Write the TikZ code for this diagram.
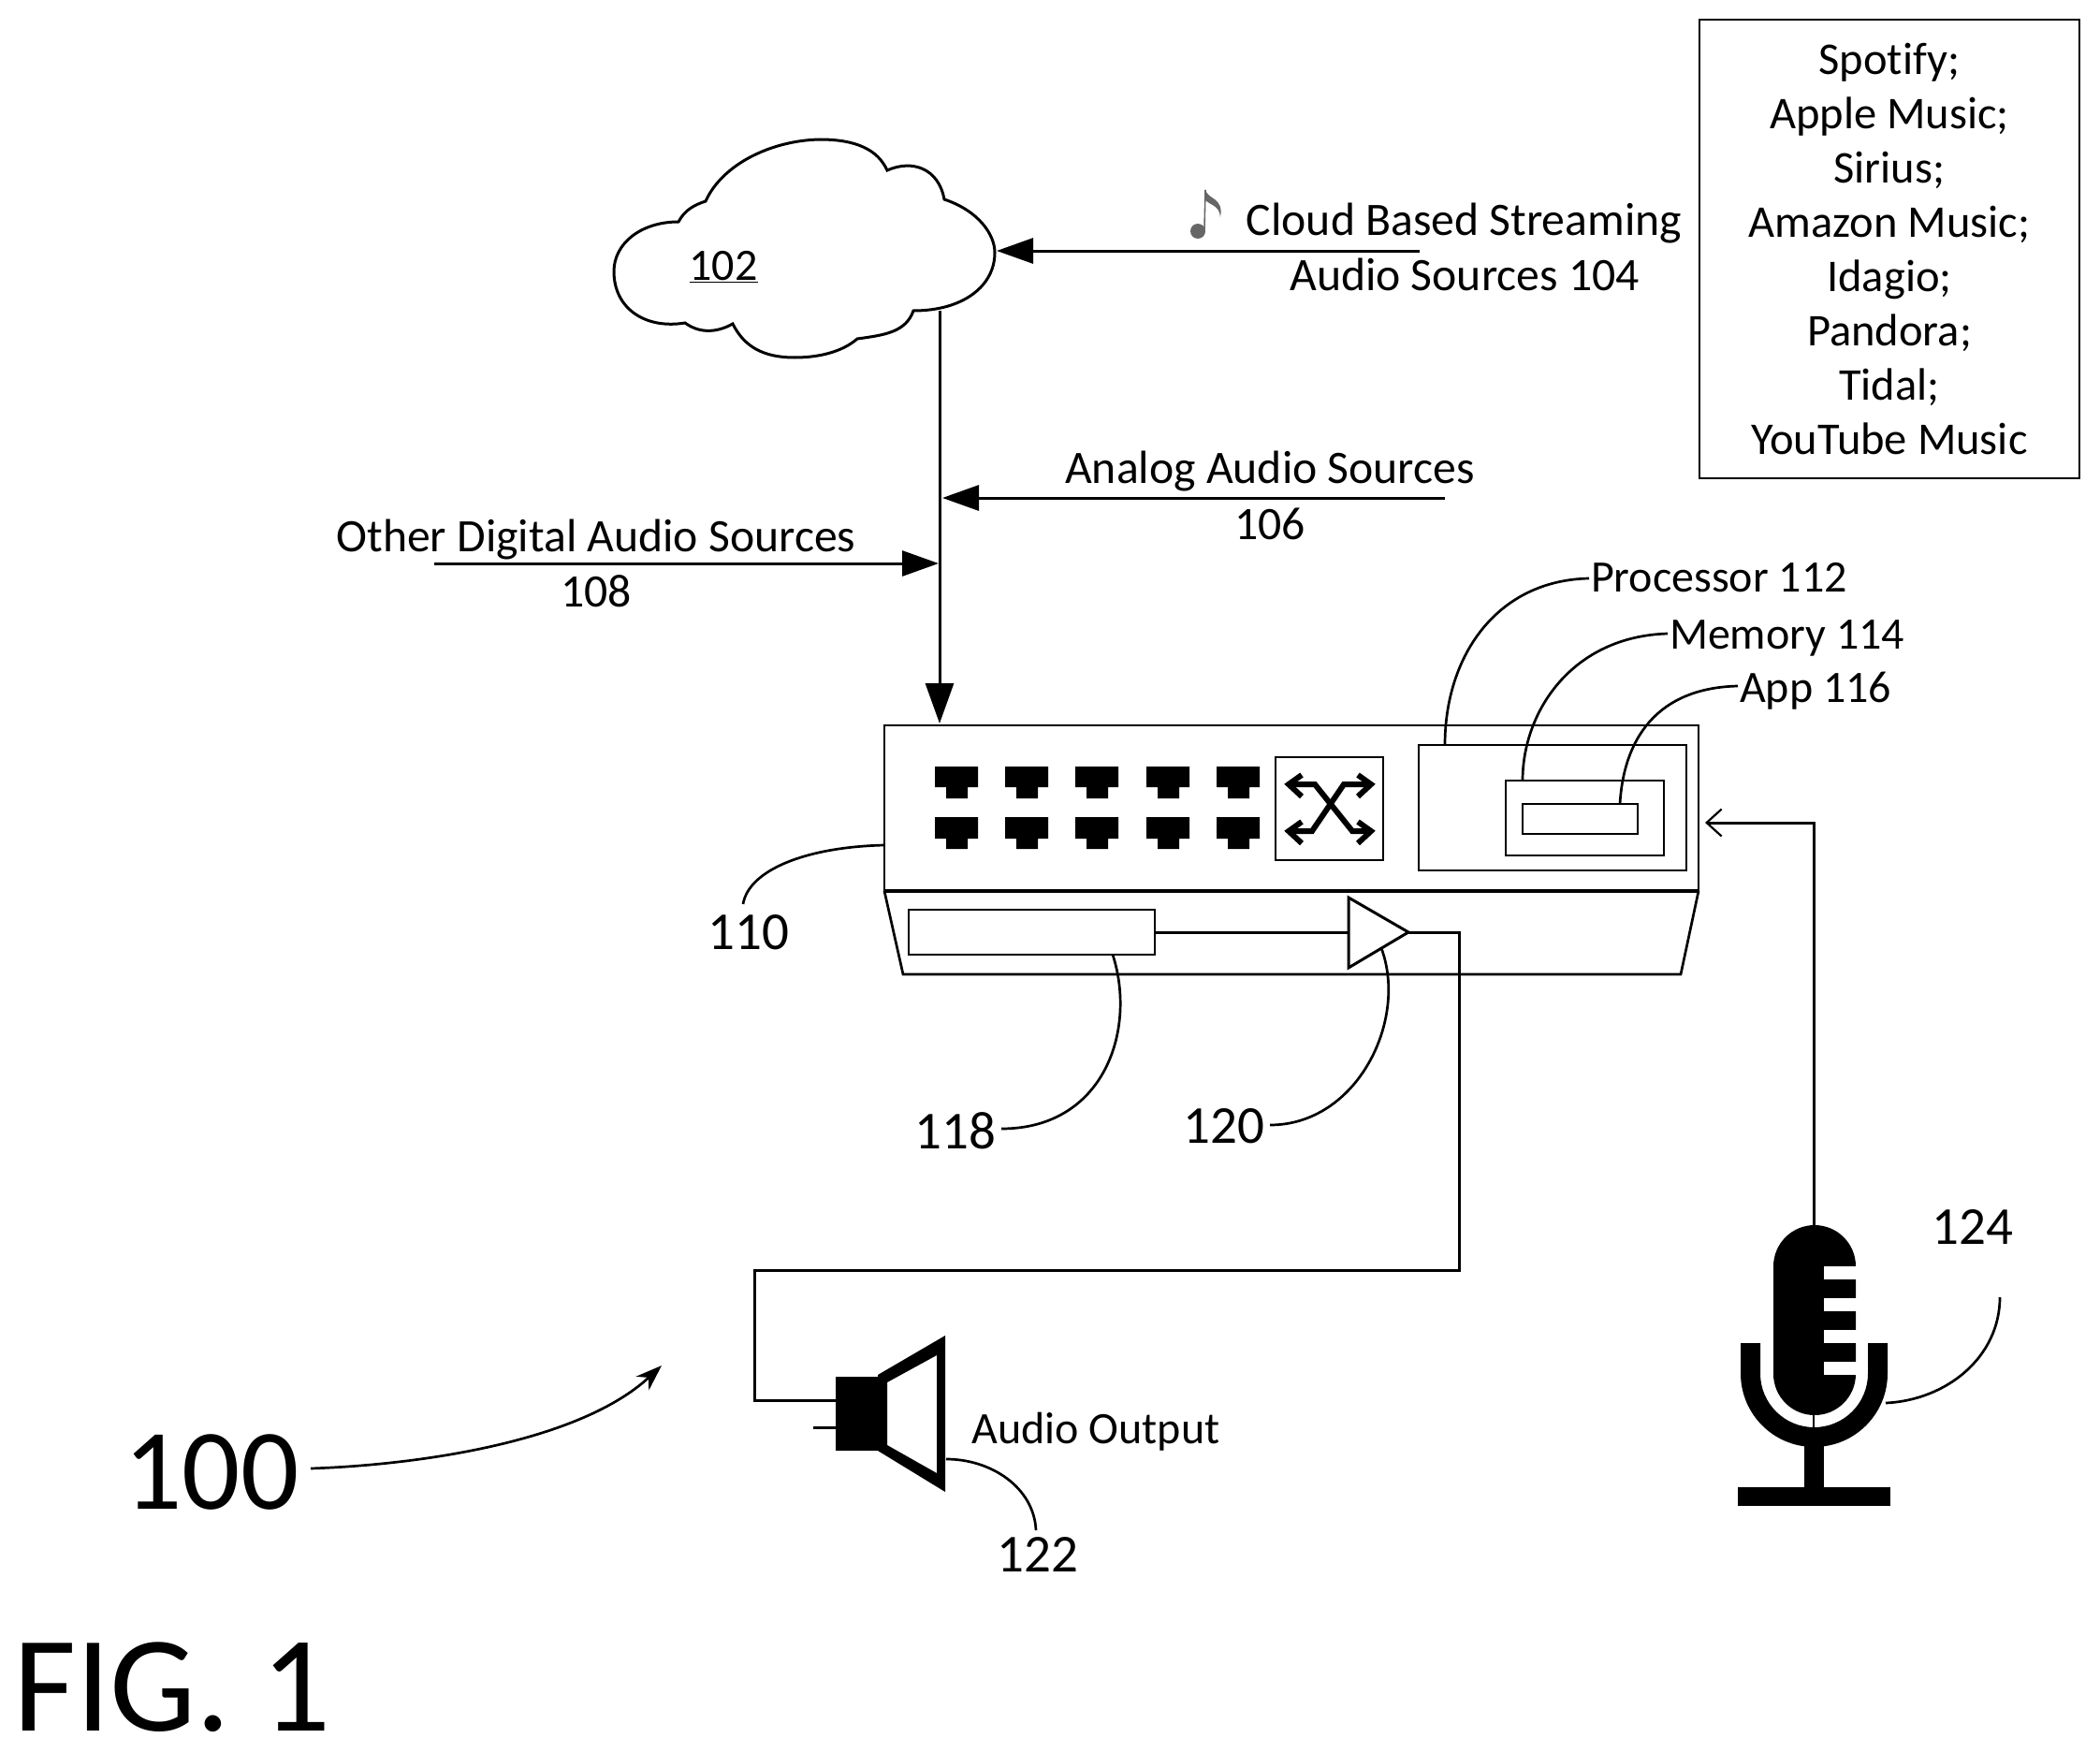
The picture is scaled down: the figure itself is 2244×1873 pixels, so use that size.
\documentclass[tikz,border=0pt]{standalone}
\usepackage{fontspec}
\setmainfont{Carlito}[Ligatures=NoCommon]
\usetikzlibrary{arrows.meta}
\newcommand{\fsN}{\fontsize{48}{58}\selectfont}
\newcommand{\fsM}{\fontsize{49.7}{58}\selectfont}
\newcommand{\fsL}{\fontsize{57}{68}\selectfont}
\newcommand{\boxat}[6][]{\node[boxn,#1,minimum width={(#5-#3)*1pt},minimum height={(#6-#4)*1pt}] (#2) at ({(#3+#5)/2},{(#4+#6)/2}) {};}
\tikzset{
  boxn/.style={draw=black,line width=2.9pt,inner sep=0pt,outer sep=0pt,rectangle},
  wire/.style={draw=black,line width=3pt},
  lead/.style={draw=black,line width=2.7pt},
  lbl/.style={inner sep=0pt,outer sep=0pt,anchor=base,font=\fsN,text=black},
  lblm/.style={inner sep=0pt,outer sep=0pt,anchor=base,font=\fsM,text=black},
  numl/.style={inner sep=0pt,outer sep=0pt,anchor=base,font=\fsL,text=black},
  bighead/.style={-{Triangle[length=39pt,width=27pt]}},
  downhead/.style={-{Triangle[length=43pt,width=30pt]}},
  openhead/.style={-{Straight Barb[length=16pt,width=29pt,line width=2.2pt]}},
  swline/.style={draw=black,line width=6pt},
}
\begin{document}
\begin{tikzpicture}[x=1pt,y=-1pt]
\useasboundingbox (0,0) rectangle (2244,1873);
% cloud
\draw[wire] (725,237) .. controls (732,224) and (742,219) .. (754,215)
  .. controls (772,175) and (825,150) .. (876,149)
  .. controls (915,149) and (938,160) .. (948,182)
  .. controls (975,170) and (1003,180) .. (1009,213)
  .. controls (1045,225) and (1063,250) .. (1063,270)
  .. controls (1063,305) and (1030,332) .. (976,332)
  .. controls (968,355) and (945,358) .. (916,362)
  .. controls (900,376) and (875,382) .. (849,382)
  .. controls (815,382) and (795,370) .. (783,346)
  .. controls (765,356) and (747,356) .. (732,345)
  .. controls (690,352) and (656,330) .. (656,290)
  .. controls (656,260) and (685,237) .. (725,237) -- cycle;
\coordinate (cloudE) at (1065,268);
\coordinate (cloudS) at (1004,332);
\node[lbl] (n102) at (773,299) {\underline{102}};
% source box
\node[boxn,minimum width=406pt,minimum height=490pt,align=center,font=\fontsize{48.5}{58}\selectfont,line width=2.8pt] (svc) at (2019,266)
 {Spotify;\\Apple Music;\\Sirius;\\Amazon Music;\\Idagio;\\Pandora;\\Tidal;\\YouTube Music};
% streaming label
\node[lblm] (t104a) at (1564.5,251) {Cloud Based Streaming};
\node[lblm] (t104b) at (1565,310) {Audio Sources 104};
\coordinate (s104) at (1517,268);
\draw[wire,bighead] (s104) -- (cloudE);
% note
\fill[black!60] (1280,247) ellipse [x radius=8,y radius=8];
\draw[black!60,line width=1.6pt] (1287,245) -- (1288,203);
\fill[black!60] (1288,202) .. controls (1290,214) and (1308,210) .. (1304,232) .. controls (1303,220) and (1295,220) .. (1288,214) -- cycle;
% device
\boxat{dev}{945}{775}{1815}{952}
\draw[lead] (dev.south west) -- (965,1041) -- (1796,1041) -- (dev.south east);
\draw[black,line width=4.5pt] (dev.south west) -- (dev.south east);
\boxat{proc}{1516}{796}{1802}{930}
\boxat{mem}{1609}{834}{1778}{914}
\boxat{app}{1627}{859}{1750}{891}
\boxat{sw}{1363}{809}{1478}{919}
\foreach \px in {999,1074,1149,1225,1300}{
  \fill[black] (\px,819) -- ++(46,0) -- ++(0,22) -- ++(-11,0) -- ++(0,12) -- ++(-23,0) -- ++(0,-12) -- ++(-12,0) -- cycle;
  \fill[black] (\px,873) -- ++(46,0) -- ++(0,23) -- ++(-11,0) -- ++(0,11) -- ++(-23,0) -- ++(0,-11) -- ++(-12,0) -- cycle;
}
\draw[swline] (1391,828) -- (1377,838) -- (1391,851);
\draw[swline] (1451,828) -- (1465,838) -- (1451,851);
\draw[swline] (1391,878) -- (1377,888) -- (1391,901);
\draw[swline] (1451,878) -- (1465,888) -- (1451,901);
\draw[swline] (1377,838) -- (1405,838) -- (1445,888) -- (1465,888);
\draw[swline] (1465,838) -- (1436,838) -- (1402,888) -- (1377,888);
% buffer and amp
\boxat{buf}{971}{972}{1234}{1020}
\coordinate (ampB) at (1441,996);
\coordinate (ampT) at (1505,996);
\draw[wire,line join=miter] (1441,959) -- (ampT) -- (1441,1034) -- cycle;
\draw[wire] (buf.east) -- (ampB);
% speaker
\node[fill=black,inner sep=0pt,outer sep=0pt,minimum width=44.5pt,minimum height=79pt] (spk) at (915.25,1510.5) {};
\fill[black,even odd rule] (938,1469) -- (1010,1427) -- (1010,1594) -- (938,1550) -- cycle
   (948,1477) -- (1001,1448) -- (1001,1574) -- (948,1544) -- cycle;
\coordinate (spkIn) at (893,1496);
\coordinate (spkStub) at (869,1525);
\draw[wire] (spkStub) -- (893,1525);
\draw[wire,line join=miter] (ampT) -- (1559,996) -- (1559,1357) -- (806,1357) -- (806,1496) -- (spkIn);
\node[lbl] (tout) at (1171,1542) {Audio Output};
% mic
\fill[black] (1895,1353) arc[start angle=180,end angle=0,radius=44pt] -- (1983,1468) arc[start angle=0,end angle=-180,radius=44pt] -- cycle;
\foreach \sy in {1353,1387,1421,1455}{\fill[white] (1949,\sy) rectangle (1985,\sy+14);}
\fill[black] (1860,1435) -- (1860,1467.5) arc[start angle=180,end angle=360,radius=78.5pt] -- (2017,1435) -- (1996,1435) -- (1996,1467.5) arc[start angle=0,end angle=-180,radius=57.5pt] -- (1881,1435) -- cycle;
\fill[black] (1928,1540) rectangle (1949,1590);
\node[fill=black,inner sep=0pt,outer sep=0pt,minimum width=163pt,minimum height=20pt] (mbase) at (1938.5,1598.5) {};
\draw[lead] (1938,1512) -- (1938,1527);
\coordinate (micTop) at (1938,1310);
\coordinate (devIn) at (1822,879);
\draw[wire,openhead] (micTop) -- (1938,879) -- (devIn);
% wires into device
\coordinate (devTop) at (1004,773);
\draw[wire,downhead] (cloudS) -- (devTop);
\coordinate (j106) at (1007,532);
\coordinate (s106) at (1544,532);
\draw[wire,bighead] (s106) -- (j106);
\coordinate (j108) at (1003,602);
\coordinate (s108) at (464,602);
\draw[wire,bighead] (s108) -- (j108);
\node[lblm] (t106a) at (1357,516) {Analog Audio Sources};
\node[lblm] (t106b) at (1357,576) {106};
\node[lblm] (t108a) at (637,589) {Other Digital Audio Sources};
\node[lblm] (t108b) at (637,648.5) {108};
% leaders
\node[lbl,anchor=base west] (t112) at (1700,632) {Processor 112};
\node[lbl,anchor=base west] (t114) at (1784,693) {Memory 114};
\node[lbl,anchor=base west] (t116) at (1859,750) {App 116};
\draw[lead] (1544,796) .. controls (1544,700) and (1600,620) .. (1698,618);
\draw[lead] (1627,834) .. controls (1627,760) and (1680,680) .. (1782,677);
\draw[lead] (1731,859) .. controls (1735,790) and (1770,735) .. (1857,733);
\node[numl] (t110) at (800,1014) {110};
\draw[lead] (dev.west |- 0,903) .. controls (860,905) and (800,930) .. (794,966);
\node[numl] (t118) at (1021,1227) {118};
\draw[lead] (1189,1020) .. controls (1215,1100) and (1180,1206) .. (1070,1206);
\node[numl] (t120) at (1308,1221) {120};
\draw[lead] (1476,1013) .. controls (1505,1090) and (1450,1202) .. (1357,1202);
\node[numl] (t122) at (1109,1679) {122};
\draw[lead] (1011,1559) .. controls (1060,1559) and (1105,1590) .. (1107,1635);
\node[numl] (t124) at (2108,1329) {124};
\draw[lead] (2015,1499) .. controls (2080,1496) and (2137,1450) .. (2137,1386);
\node[inner sep=0pt,outer sep=0pt,anchor=base,font=\fontsize{123}{130}\selectfont] (t100) at (226,1612) {100};
\coordinate (a100) at (707,1459);
\draw[lead,-{Stealth[length=28pt,width=20pt]}] (332,1569) .. controls (450,1565) and (620,1540) .. (a100);
\node[inner sep=0pt,outer sep=0pt,anchor=base west,font=\fontsize{146}{150}\selectfont] (fig) at (14,1849) {\smash{FIG. 1}};
\end{tikzpicture}
\end{document}
